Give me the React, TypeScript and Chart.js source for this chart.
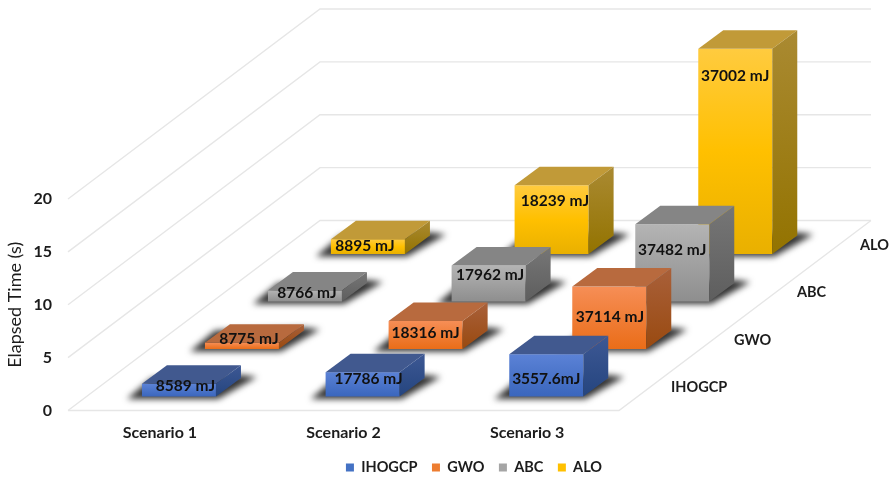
import React, { useEffect, useRef } from "react";
import { Chart, registerables } from "chart.js";

Chart.register(...registerables);

const scenarios = ["Scenario 1", "Scenario 2", "Scenario 3"];
const methods = ["IHOGCP", "GWO", "ABC", "ALO"];

// Elapsed time in seconds, one value per scenario
const ihogcpTime = [1.2, 2.3, 4.0];
const gwoTime = [0.6, 2.65, 5.9];
const abcTime = [1.05, 3.4, 7.3];
const aloTime = [1.4, 6.5, 19.4];

// Energy captions printed on the bars
const ihogcpEnergy = ["8589 mJ", "17786 mJ", "3557.6mJ"];
const gwoEnergy = ["8775 mJ", "18316 mJ", "37114 mJ"];
const abcEnergy = ["8766 mJ", "17962 mJ", "37482 mJ"];
const aloEnergy = ["8895 mJ", "18239 mJ", "37002 mJ"];

const yTicks = { min: 0, max: 20, stepSize: 5 };

const FONT = "Lato";
const INK = "#1c1c1c";
const GRID = "#e6e6e6";

// Oblique projection of the depth axis
const ROW_STEP_X = 63;
const ROW_STEP_Y = -47.5;
const ROW_COUNT = 4;
const BAR_DEPTH_X = 25;
const BAR_DEPTH_Y = -18.5;
const FRONT_GAP_X = 19.1;
const FRONT_GAP_Y = -14;

type FaceStyle = {
  swatch: string;
  front: string[];
  top: string;
  side: string[];
};

const faces: FaceStyle[] = [
  { swatch: "#4472c4", front: ["#5b82d6", "#3a66bd"], top: "#41598f", side: ["#3d5894", "#25457f"] },
  { swatch: "#ed7d31", front: ["#f68e56", "#ea6d18"], top: "#b86a3e", side: ["#a9603a", "#994a10"] },
  { swatch: "#a5a5a5", front: ["#b4b4b4", "#8e8e8e"], top: "#858585", side: ["#767676", "#5e5e5e"] },
  { swatch: "#ffc000", front: ["#ffcb3f", "#ffc000", "#e9b000"], top: "#c19a38", side: ["#aa8a32", "#937300"] },
];

// Caption placement relative to the top centre of each bar's front face
const captionNudgeX = [
  [6.6, 6, 0],
  [7, 0, 0.7],
  [2, 1.5, 0],
  [-3, 3.4, 0],
];
const captionNudgeY = [
  [2, 7, 25],
  [-4, 12, 30],
  [3, 9, 26],
  [7, 16, 27],
];

const captions = [ihogcpEnergy, gwoEnergy, abcEnergy, aloEnergy];

function poly(ctx: CanvasRenderingContext2D, pts: number[][]) {
  ctx.beginPath();
  pts.forEach(([x, y], i) => (i ? ctx.lineTo(x, y) : ctx.moveTo(x, y)));
  ctx.closePath();
}

function ramp(ctx: CanvasRenderingContext2D, y0: number, y1: number, stops: string[]) {
  const g = ctx.createLinearGradient(0, y0, 0, y1);
  stops.forEach((c, i) => g.addColorStop(i / (stops.length - 1), c));
  return g;
}

function rowShift(row: number) {
  return {
    dx: FRONT_GAP_X + ROW_STEP_X * row,
    dy: FRONT_GAP_Y + ROW_STEP_Y * row,
  };
}

// Grid on the two walls, floor outline and depth-axis labels
const wallsPlugin = {
  id: "walls",
  afterLayout(chart: any) {
    const legend = chart.legend;
    legend.left = 224;
    legend.right = 224 + 500;
    legend.top = 445.75;
  },
  beforeDatasetsDraw(chart: any) {
    const { ctx, scales } = chart;
    const left = scales.x.left;
    const right = scales.x.right;
    const depthX = ROW_STEP_X * ROW_COUNT;
    const depthY = ROW_STEP_Y * ROW_COUNT;
    ctx.save();
    ctx.strokeStyle = GRID;
    ctx.lineWidth = 1.4;
    scales.y.ticks.forEach((tick: any) => {
      const y = scales.y.getPixelForValue(tick.value);
      ctx.beginPath();
      ctx.moveTo(left, y);
      ctx.lineTo(left + depthX, y + depthY);
      ctx.lineTo(right + depthX, y + depthY);
      ctx.stroke();
    });
    const floor = scales.y.getPixelForValue(0);
    ctx.beginPath();
    ctx.moveTo(left, floor);
    ctx.lineTo(right, floor);
    ctx.lineTo(right + depthX, floor + depthY);
    ctx.stroke();

    ctx.fillStyle = INK;
    ctx.font = `bold 14.5px ${FONT}`;
    ctx.textAlign = "left";
    ctx.textBaseline = "middle";
    methods.forEach((name, row) => {
      ctx.fillText(name, right + 52 + ROW_STEP_X * row, floor - 23 + ROW_STEP_Y * row);
    });
    ctx.restore();
  },
  // Each dataset's bars are rendered as oblique boxes from their scale positions
  beforeDatasetDraw(chart: any, args: any) {
    const { ctx } = chart;
    const row = args.index;
    const face = faces[row];
    const { dx, dy } = rowShift(row);
    args.meta.data.forEach((bar: any) => {
      const { x, y, base, width } = bar.getProps(["x", "y", "base", "width"], true);
      const l = x - width / 2 + dx;
      const r = x + width / 2 + dx;
      const t = y + dy;
      const b = base + dy;
      const ox = BAR_DEPTH_X;
      const oy = BAR_DEPTH_Y;

      ctx.save();
      ctx.filter = "blur(3px)";
      ctx.fillStyle = "#333333";
      poly(ctx, [
        [l - 15, b + 2.5],
        [r + 2, b + 2.5],
        [r + ox + 16, b + oy - 1],
        [r + ox, b + oy - 3],
        [l + 10, b + oy],
      ]);
      ctx.fill();
      ctx.restore();

      ctx.save();
      ctx.fillStyle = ramp(ctx, t, b, face.front);
      ctx.fillRect(l, t, r - l, b - t);
      ctx.fillStyle = face.top;
      poly(ctx, [
        [l, t],
        [l + ox, t + oy],
        [r + ox, t + oy],
        [r, t],
      ]);
      ctx.fill();
      ctx.fillStyle = ramp(ctx, t + oy, b, face.side);
      poly(ctx, [
        [r, t],
        [r + ox, t + oy],
        [r + ox, b + oy],
        [r, b],
      ]);
      ctx.fill();
      ctx.restore();
    });
    return false;
  },
  afterDatasetsDraw(chart: any) {
    const { ctx } = chart;
    ctx.save();
    ctx.fillStyle = "#111111";
    ctx.font = `bold 15.5px ${FONT}`;
    ctx.textAlign = "center";
    ctx.textBaseline = "middle";
    captions.forEach((texts, row) => {
      const { dx, dy } = rowShift(row);
      const bars = chart.getDatasetMeta(row).data;
      texts.forEach((text, col) => {
        const bar = bars[col];
        ctx.fillText(
          text,
          bar.x + dx + captionNudgeX[row][col],
          bar.y + dy + captionNudgeY[row][col]
        );
      });
    });
    ctx.restore();
  },
};

export default function App() {
  const canvasRef = useRef<HTMLCanvasElement>(null);

  useEffect(() => {
    const chart = new Chart(canvasRef.current as HTMLCanvasElement, {
      type: "bar",
      data: {
        labels: scenarios,
        datasets: [ihogcpTime, gwoTime, abcTime, aloTime].map((values, i) => ({
          label: methods[i],
          data: values,
          backgroundColor: faces[i].swatch,
          borderWidth: 0,
          barThickness: 74,
          grouped: false,
        })),
      },
      options: {
        responsive: false,
        animation: false,
        events: [],
        layout: { padding: { top: 199, right: 274, bottom: -8.5, left: 0 } },
        font: { family: FONT },
        scales: {
          x: {
            grid: { display: false, drawTicks: false },
            border: { display: false },
            ticks: {
              padding: 13,
              color: INK,
              maxRotation: 0,
              font: { family: FONT, size: 16, weight: "bold" },
            },
            afterFit: (scale: any) => {
              scale.height = 36;
            },
          },
          y: {
            min: yTicks.min,
            max: yTicks.max,
            grid: { display: false, drawTicks: false },
            border: { display: false },
            ticks: {
              stepSize: yTicks.stepSize,
              padding: 16,
              color: INK,
              font: { family: FONT, size: 16, weight: "bold" },
            },
            title: {
              display: true,
              text: "Elapsed Time (s)",
              color: INK,
              padding: { top: 4, bottom: 0 },
              font: { family: FONT, size: 18, weight: "normal" },
            },
            afterFit: (scale: any) => {
              scale.width = 68;
            },
          },
        },
        plugins: {
          tooltip: { enabled: false },
          title: { display: false },
          legend: {
            position: "bottom",
            labels: {
              boxWidth: 8,
              boxHeight: 8,
              padding: 14.5,
              color: INK,
              font: { family: FONT, size: 14.5, weight: "bold" },
            },
          },
        },
      },
      plugins: [wallsPlugin],
    } as any);
    return () => chart.destroy();
  }, []);

  return (
    <div style={{ position: "fixed", left: 0, top: 0, width: 893, height: 477, background: "#ffffff" }}>
      <canvas ref={canvasRef} width={893} height={477} style={{ display: "block" }} />
    </div>
  );
}
